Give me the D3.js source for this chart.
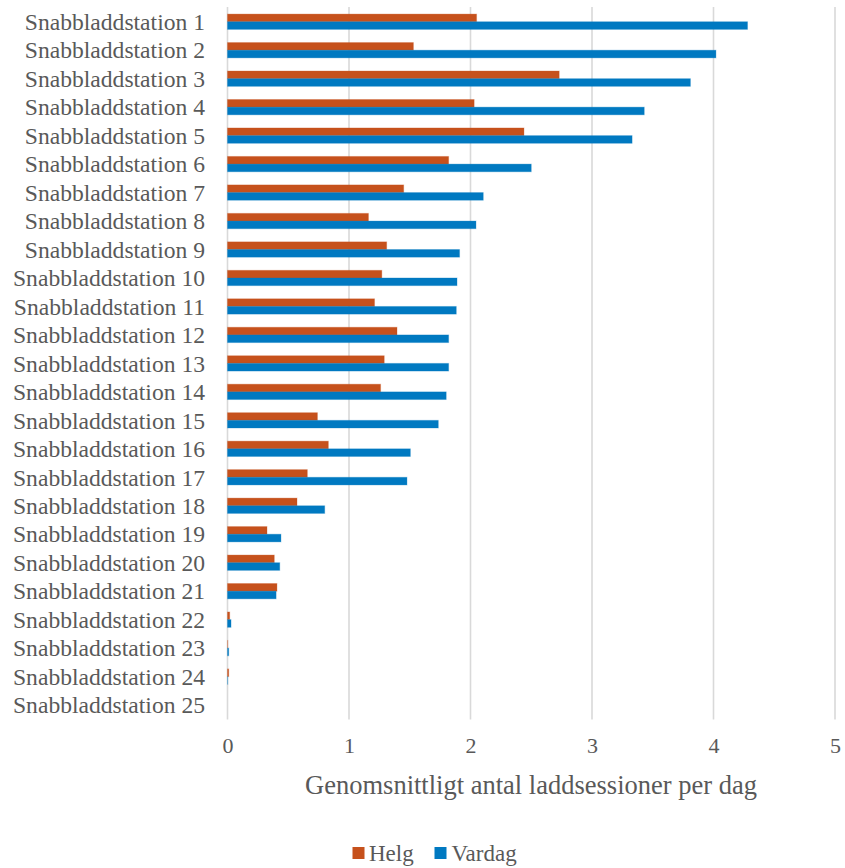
<!DOCTYPE html>
<html>
<head>
<meta charset="utf-8">
<script src="https://cdn.jsdelivr.net/npm/d3@7"></script>
<style>
  html, body { margin: 0; padding: 0; background: #ffffff; }
  svg { display: block; }
  svg text { font-family: "Liberation Serif", "Times New Roman", serif; fill: #595959; }
</style>
</head>
<body>
<svg id="chart" width="845" height="868"></svg>
<script>
// Stations, top to bottom
const categories = d3.range(1, 26).map(i => "Snabbladdstation " + i);

// Average charging sessions per day, weekend
const helg = [2.05, 1.53, 2.73, 2.03, 2.44, 1.82, 1.45, 1.16, 1.31, 1.27,
              1.21, 1.395, 1.29, 1.26, 0.74, 0.83, 0.657, 0.572, 0.325, 0.385,
              0.407, 0.018, 0.002, 0.01, 0];

// Average charging sessions per day, weekday
const vardag = [4.28, 4.02, 3.81, 3.43, 3.33, 2.50, 2.105, 2.045, 1.91, 1.889,
                1.883, 1.82, 1.82, 1.80, 1.735, 1.505, 1.477, 0.80, 0.44, 0.43,
                0.40, 0.029, 0.01, 0.002, 0];

const seriesNames = ["Helg", "Vardag"];
const xTicks = [0, 1, 2, 3, 4, 5];
const axisTitle = "Genomsnittligt antal laddsessioner per dag";

const colors = { Helg: "#C6511C", Vardag: "#0079C1" };
const serif = '"Liberation Serif", "Times New Roman", serif';

const svg = d3.select("#chart");

const x = d3.scaleLinear().domain([0, 5]).range([227.5, 835]);
const y = d3.scaleBand().domain(categories).range([7.5, 719.3]).padding(0);
const ySub = d3.scaleBand().domain(seriesNames).range([0, y.bandwidth()])
  .paddingInner(0).paddingOuter(0.86);

// Vertical gridlines
svg.append("g")
  .selectAll("line")
  .data(xTicks)
  .join("line")
  .attr("x1", d => x(d)).attr("x2", d => x(d))
  .attr("y1", 7).attr("y2", 719.5)
  .attr("stroke", "#D9D9D9")
  .attr("stroke-width", 1.6);

// Bars
const rows = categories.map((c, i) => ({ cat: c, Helg: helg[i], Vardag: vardag[i] }));
const groups = svg.append("g")
  .selectAll("g")
  .data(rows)
  .join("g")
  .attr("transform", d => `translate(0,${y(d.cat)})`);

groups.selectAll("rect")
  .data(d => seriesNames.map(s => ({ key: s, value: d[s] })))
  .join("rect")
  .attr("x", x(0))
  .attr("y", d => ySub(d.key))
  .attr("width", d => Math.max(0, x(d.value) - x(0)))
  .attr("height", ySub.bandwidth())
  .attr("fill", d => colors[d.key])
  .attr("stroke", d => colors[d.key])
  .attr("stroke-opacity", 0.3)
  .attr("stroke-width", 1);

// Category labels
svg.append("g")
  .selectAll("text")
  .data(categories)
  .join("text")
  .attr("x", 205)
  .attr("y", d => y(d) + y.bandwidth() / 2)
  .attr("dy", "0.35em")
  .attr("text-anchor", "end")
  .style("font-family", serif)
  .style("font-size", "23.6px")
  .text(d => d);

// X axis tick labels
const xAxis = d3.axisBottom(x).tickValues(xTicks).tickSize(0).tickPadding(0)
  .tickFormat(d3.format("d"));
const gx = svg.append("g")
  .attr("transform", "translate(0,737)")
  .call(xAxis)
  .attr("font-family", null)
  .attr("font-size", null);
gx.select(".domain").remove();
gx.selectAll("text")
  .style("font-family", serif)
  .style("font-size", "22px")
  .style("fill", "#595959");

// Axis title
svg.append("text")
  .attr("x", 531)
  .attr("y", 794)
  .attr("text-anchor", "middle")
  .style("font-family", serif)
  .style("font-size", "26.5px")
  .text(axisTitle);

// Legend
const legendItems = [
  { key: "Helg", sx: 352.5, tx: 369 },
  { key: "Vardag", sx: 434.5, tx: 451.5 }
];
const legend = svg.append("g");
legend.selectAll("rect")
  .data(legendItems)
  .join("rect")
  .attr("x", d => d.sx)
  .attr("y", 847)
  .attr("width", 12)
  .attr("height", 12)
  .attr("fill", d => colors[d.key]);
legend.selectAll("text")
  .data(legendItems)
  .join("text")
  .attr("x", d => d.tx)
  .attr("y", 861)
  .style("font-family", serif)
  .style("font-size", "23px")
  .text(d => d.key);
</script>
</body>
</html>
